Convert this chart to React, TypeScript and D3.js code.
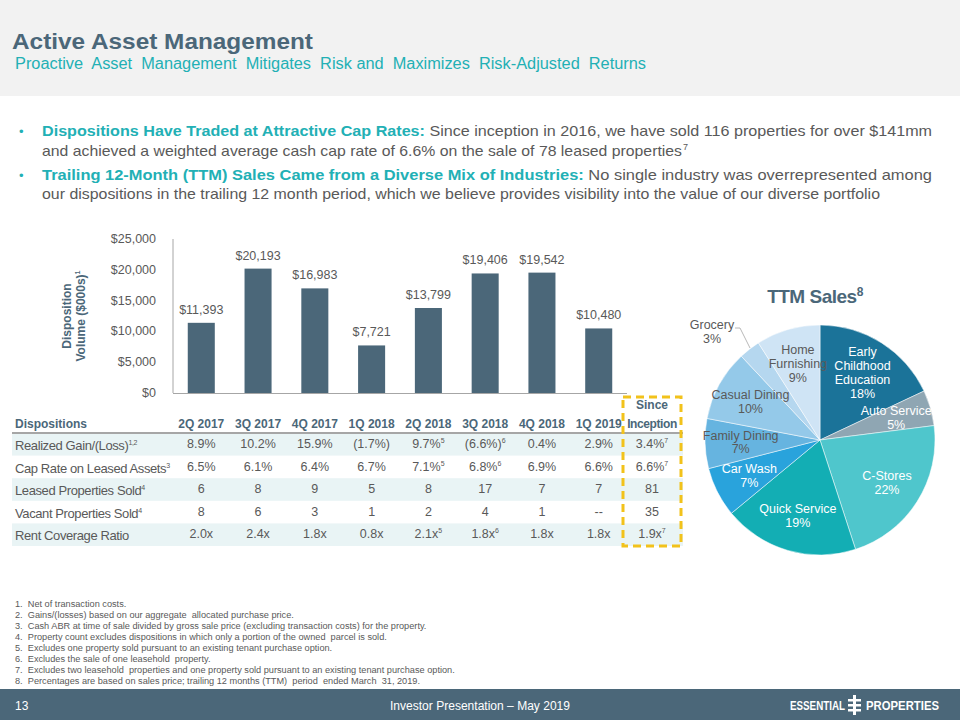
import * as d3 from "d3";

// bar chart / table data
const quarters = ["2Q 2017", "3Q 2017", "4Q 2017", "1Q 2018", "2Q 2018", "3Q 2018", "4Q 2018", "1Q 2019"];
const volumes = [11393, 20193, 16983, 7721, 13799, 19406, 19542, 10480];
const yTicks = [0, 5000, 10000, 15000, 20000, 25000];

const rowLabels = ["Realized Gain/(Loss)", "Cap Rate on Leased Assets", "Leased Properties Sold", "Vacant Properties Sold", "Rent Coverage Ratio"];
const rowLabelSups = ["1,2", "3", "4", "4", ""];
// last entry of each row = since inception
const realized = ["8.9%", "10.2%", "15.9%", "(1.7%)", "9.7%", "(6.6%)", "0.4%", "2.9%", "3.4%"];
const capRate = ["6.5%", "6.1%", "6.4%", "6.7%", "7.1%", "6.8%", "6.9%", "6.6%", "6.6%"];
const leasedSold = ["6", "8", "9", "5", "8", "17", "7", "7", "81"];
const vacantSold = ["8", "6", "3", "1", "2", "4", "1", "--", "35"];
const coverage = ["2.0x", "2.4x", "1.8x", "0.8x", "2.1x", "1.8x", "1.8x", "1.8x", "1.9x"];
const cellSups = ["", "", "", "", "5", "6", "", "", "7"];
const rowHasSups = [true, true, false, false, true];

// pie data
const industries = ["Early|Childhood|Education", "Auto Service", "C-Stores", "Quick Service", "Car Wash", "Family Dining", "Casual Dining", "Grocery", "Home|Furnishing"];
const shares = [18, 5, 22, 19, 7, 7, 10, 3, 9];

const footnotes = [
  "Net of transaction costs.",
  "Gains/(losses) based on our aggregate  allocated purchase price.",
  "Cash ABR at time of sale divided by gross sale price (excluding transaction costs) for the property.",
  "Property count excludes dispositions in which only a portion of the owned  parcel is sold.",
  "Excludes one property sold pursuant to an existing tenant purchase option.",
  "Excludes the sale of one leasehold  property.",
  "Excludes two leasehold  properties and one property sold pursuant to an existing tenant purchase option.",
  "Percentages are based on sales price; trailing 12 months (TTM)  period  ended March  31, 2019.",
];

const slate = "#4b6779";
const teal = "#22b0b5";
const grey = "#595959";
const sans = "'Liberation Sans', Arial, sans-serif";
const pieColors = ["#1b7399", "#8fa6b3", "#4fc6cc", "#13aeb4", "#29a3dc", "#66b4e0", "#94c9e9", "#b5d7ef", "#cfe4f5"];
const pieText = ["#fff", "#fff", "#fff", "#fff", "#fff", grey, grey, grey, grey];

const App = () => {
  const x = d3.scaleBand<string>().domain(quarters).range([173, 627]).paddingInner(0.524).paddingOuter(0.26);
  const y = d3.scaleLinear().domain([0, 25000]).range([393, 239]);
  const fmt = d3.format("$,.0f");
  const colX = (i: number) => (i < quarters.length ? x(quarters[i])! + x.bandwidth() / 2 : 652);

  const rows = [realized, capRate, leasedSold, vacantSold, coverage];
  const rowTop = 433;
  const rowH = 22.6;

  const cx = 820, cy = 440, r = 115;
  const pie = d3.pie<number>().sort(null).value((d) => d);
  const arcs = pie(shares);
  const arc = d3.arc<d3.PieArcDatum<number>>().innerRadius(0).outerRadius(r);
  const labelArc = d3.arc<d3.PieArcDatum<number>>().innerRadius(r * 0.69).outerRadius(r * 0.69);

  return (
    <svg width={960} height={720} style={{ position: "absolute", left: 0, top: 0, background: "#fff" }} fontFamily={sans}>
      {/* header */}
      <rect x={0} y={0} width={960} height={96} fill="#f2f2f2" />
      <text x={12} y={49} fontSize={22} fontWeight="bold" fill={slate} textLength={301} lengthAdjust="spacingAndGlyphs">Active Asset Management</text>
      <text x={15} y={69} fontSize={16} fill={teal} textLength={631} lengthAdjust="spacingAndGlyphs" style={{ whiteSpace: "pre" }}>
        Proactive  Asset  Management  Mitigates  Risk and  Maximizes  Risk-Adjusted  Returns
      </text>

      {/* bullets */}
      <g fontSize={15}>
        <text x={19} y={136} fill={teal} fontSize={13}>•</text>
        <text x={42} y={136} textLength={890} lengthAdjust="spacingAndGlyphs">
          <tspan fill={teal} fontWeight="bold">Dispositions Have Traded at Attractive Cap Rates: </tspan>
          <tspan fill={grey}>Since inception in 2016, we have sold 116 properties for over $141mm</tspan>
        </text>
        <text x={42} y={156} fill={grey} textLength={640} lengthAdjust="spacingAndGlyphs">
          and achieved a weighted average cash cap rate of 6.6% on the sale of 78 leased properties
        </text>
        <text x={683} y={150} fill={grey} fontSize={9}>7</text>
        <text x={19} y={180} fill={teal} fontSize={13}>•</text>
        <text x={42} y={180} textLength={890} lengthAdjust="spacingAndGlyphs">
          <tspan fill={teal} fontWeight="bold">Trailing 12-Month (TTM) Sales Came from a Diverse Mix of Industries: </tspan>
          <tspan fill={grey}>No single industry was overrepresented among</tspan>
        </text>
        <text x={42} y={199} fill={grey} textLength={838} lengthAdjust="spacingAndGlyphs">
          our dispositions in the trailing 12 month period, which we believe provides visibility into the value of our diverse portfolio
        </text>
      </g>

      {/* bar chart */}
      <g>
        {yTicks.map((t) => (
          <text key={t} x={156} y={y(t) + 4} textAnchor="end" fontSize={12.5} fill={grey}>{fmt(t)}</text>
        ))}
        {quarters.map((q, i) => (
          <g key={q}>
            <rect x={x(q)} y={y(volumes[i])} width={x.bandwidth()} height={y(0) - y(volumes[i])} fill={slate} />
            <text x={x(q)! + x.bandwidth() / 2} y={y(volumes[i]) - 9} textAnchor="middle" fontSize={12.5} fill={grey}>{fmt(volumes[i])}</text>
          </g>
        ))}
        <line x1={173} x2={173} y1={239} y2={393} stroke="#a6a6a6" />
        <line x1={173} x2={627} y1={393.5} y2={393.5} stroke="#a6a6a6" />
        <text transform="translate(71,316) rotate(-90)" textAnchor="middle" fontSize={12} fontWeight="bold" fill={slate}>Disposition</text>
        <text transform="translate(85,316) rotate(-90)" textAnchor="middle" fontSize={12} fontWeight="bold" fill={slate}>
          Volume ($000s)<tspan fontSize={7} dy={-5}>1</tspan>
        </text>
      </g>

      {/* table */}
      <g fontSize={12.5}>
        {rows.map((_, ri) =>
          ri % 2 === 0 ? <rect key={ri} x={12} y={rowTop + ri * rowH} width={671} height={rowH} fill="#e9f4f5" /> : null
        )}
        <text x={15} y={428} fontWeight="bold" fill={slate} fontSize={12}>Dispositions</text>
        {quarters.map((q, i) => (
          <text key={q} x={colX(i)} y={428} textAnchor="middle" fontWeight="bold" fill={slate} fontSize={12}>{q}</text>
        ))}
        <text x={colX(8)} y={409} textAnchor="middle" fontWeight="bold" fill={slate} fontSize={12}>Since</text>
        <text x={colX(8)} y={428} textAnchor="middle" fontWeight="bold" fill={slate} fontSize={12} letterSpacing={-0.4}>Inception</text>
        <line x1={12} x2={683} y1={433} y2={433} stroke="#a6a6a6" strokeWidth={2} />
        {rows.map((row, ri) => {
          const yy = rowTop + ri * rowH + 15;
          return (
            <g key={ri}>
              <text x={15} y={yy + 2} fill={grey} fontSize={13} letterSpacing={-0.4}>
                {rowLabels[ri]}
                {rowLabelSups[ri] && <tspan fontSize={7} dy={-5}>{rowLabelSups[ri]}</tspan>}
              </text>
              {row.map((v, ci) => (
                <text key={ci} x={colX(ci)} y={yy} textAnchor="middle" fill={grey}>
                  {v}
                  {rowHasSups[ri] && cellSups[ci] && <tspan fontSize={7} dy={-5}>{cellSups[ci]}</tspan>}
                </text>
              ))}
            </g>
          );
        })}
        <rect x={623} y={397} width={58} height={149} fill="none" stroke="#f2c21b" strokeWidth={3} strokeDasharray="8,5" />
      </g>

      {/* pie */}
      <text x={815} y={303} textAnchor="middle" fontSize={19} fontWeight="bold" fill={slate} letterSpacing={-0.5}>
        TTM Sales<tspan fontSize={12} dy={-7}>8</tspan>
      </text>
      <g transform={`translate(${cx},${cy})`}>
        {arcs.map((a, i) => (
          <path key={i} d={arc(a)!} fill={pieColors[i]} stroke="#fff" strokeWidth={0.5} />
        ))}
        {arcs.map((a, i) => {
          if (industries[i] === "Grocery") {
            return (
              <g key={i} fill={grey} fontSize={12.5} textAnchor="middle">
                <text x={-108} y={-111}>{industries[i]}</text>
                <text x={-108} y={-97}>{shares[i]}%</text>
                <polyline points="-85,-112 -80,-112 -70,-92" fill="none" stroke="#a6a6a6" strokeWidth={0.8} />
              </g>
            );
          }
          const [lx, ly] = labelArc.centroid(a);
          const lines = [...industries[i].split("|"), `${shares[i]}%`];
          const lh = 14;
          const top = ly - ((lines.length - 1) * lh) / 2 + 4;
          return (
            <text key={i} textAnchor="middle" fontSize={12.5} fill={pieText[i]}>
              {lines.map((l, li) => (
                <tspan key={li} x={lx} y={top + li * lh}>{l}</tspan>
              ))}
            </text>
          );
        })}
      </g>

      {/* footnotes */}
      <g fontSize={9.2} fill={grey}>
        {footnotes.map((f, i) => (
          <text key={i} x={15} y={607 + i * 11} style={{ whiteSpace: "pre" }}>{`${i + 1}.  ${f}`}</text>
        ))}
      </g>

      {/* footer */}
      <rect x={0} y={689} width={960} height={31} fill={slate} />
      <text x={15} y={710} fontSize={12} fill="#fff">13</text>
      <text x={390} y={710} fontSize={12} fill="#fff" textLength={180} lengthAdjust="spacingAndGlyphs">Investor Presentation – May 2019</text>
      <text x={790} y={710} fontSize={13} fontWeight="bold" fill="#fff" textLength={55} lengthAdjust="spacingAndGlyphs">ESSENTIAL</text>
      <rect x={853} y={695} width={3} height={20} fill="#fff" />
      <rect x={848} y={699} width={13} height={2.5} fill="#fff" />
      <rect x={848} y={704} width={13} height={2.5} fill="#fff" />
      <rect x={848} y={709} width={13} height={2.5} fill="#fff" />
      <text x={866} y={710} fontSize={13} fontWeight="bold" fill="#fff" textLength={73} lengthAdjust="spacingAndGlyphs">PROPERTIES</text>
    </svg>
  );
};

export default App;
